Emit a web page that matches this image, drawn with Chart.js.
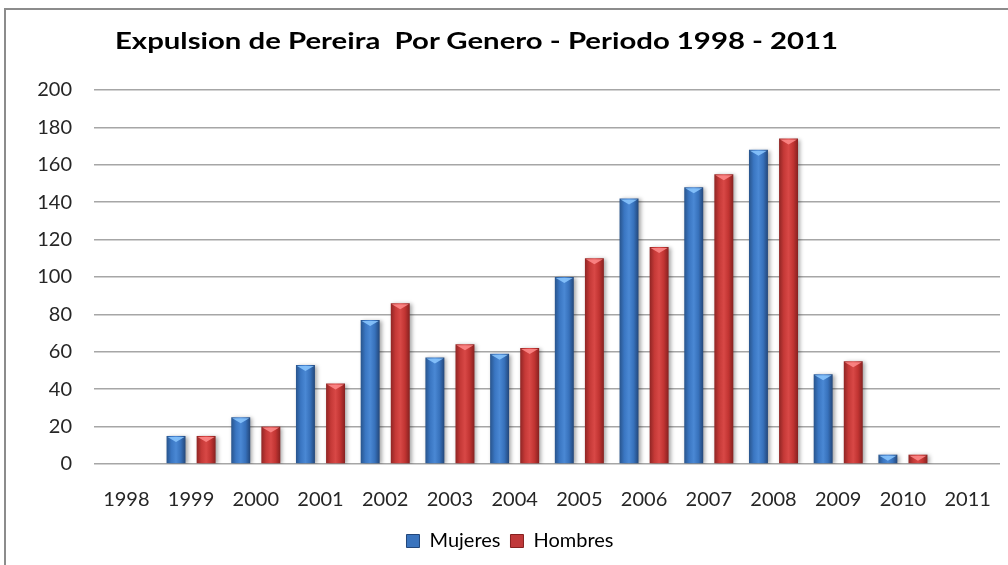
<!DOCTYPE html>
<html>
<head>
<meta charset="utf-8">
<script src="https://cdn.jsdelivr.net/npm/chart.js@4.4.1/dist/chart.umd.min.js"></script>
<style>
  html, body { margin: 0; padding: 0; background: #fff; overflow: hidden; }
  #wrap { position: relative; width: 1008px; height: 565px; }
  #frame { position: absolute; left: 4px; top: 8px; width: 1100px; height: 700px;
           border: 2px solid #8c8c8c; box-sizing: border-box; }
  #title { position: absolute; left: 115px; top: 26px; margin: 0;
           font: bold 23px Lato, sans-serif; white-space: pre; color: #000;
           transform-origin: 0 0; }
  canvas { position: absolute; left: 0; top: 0; }
</style>
</head>
<body>
<div id="wrap">
  <div id="frame"></div>
  <canvas id="chart" width="1008" height="565"></canvas>
  <div id="title">Expulsion de Pereira  Por Genero - Periodo 1998 - 2011</div>
</div>
<script>
// Expulsiones por año y género
const years = ['1998', '1999', '2000', '2001', '2002', '2003', '2004',
               '2005', '2006', '2007', '2008', '2009', '2010', '2011'];
const mujeres = [0, 15, 25, 53, 77, 57, 59, 100, 142, 148, 168, 48, 5, 0];
const hombres = [0, 15, 20, 43, 86, 64, 62, 110, 116, 155, 174, 55, 5, 0];
const yTicks = [0, 20, 40, 60, 80, 100, 120, 140, 160, 180, 200];

const tickFont = { family: 'Lato', size: 20 };

// widen the title so it runs from x=115 to x=838
const title = document.getElementById('title');
title.style.transform = 'scaleX(' + (723 / title.offsetWidth) + ')';

// colour ramps for the cylinder look (left edge -> right edge)
const shades = {
    blue: { solid: '#3a74be', cap: 'rgba(140,200,255,0.85)',
            stops: ['#28548c', '#3a76c2', '#4a88d4', '#3771bb', '#23477a'] },
    red:  { solid: '#c0393a', cap: 'rgba(255,140,140,0.85)',
            stops: ['#8f2524', '#c53937', '#d84846', '#c13432', '#862120'] }
};

// give every bar a horizontal gradient and a shadow, then a light cap on top
const barShade = {
    id: 'barShade',
    beforeDatasetDraw(chart, args) {
        const ctx = chart.ctx;
        const shade = shades[chart.data.datasets[args.index].shade];
        args.meta.data.forEach(el => {
            const { x, width } = el.getProps(['x', 'width'], true);
            const g = ctx.createLinearGradient(x - width / 2, 0, x + width / 2, 0);
            shade.stops.forEach((c, i) => g.addColorStop(i / (shade.stops.length - 1), c));
            el.options = Object.assign({}, el.options, { backgroundColor: g });
        });
        ctx.save();
        ctx.shadowColor = 'rgba(0,0,0,0.35)';
        ctx.shadowBlur = 4;
        ctx.shadowOffsetX = 2;
        ctx.shadowOffsetY = 1;
    },
    afterDatasetDraw(chart, args) {
        const ctx = chart.ctx;
        ctx.restore();
        const ds = chart.data.datasets[args.index];
        const shade = shades[ds.shade];
        args.meta.data.forEach((el, i) => {
            if (!ds.data[i]) return;
            const { x, y, width } = el.getProps(['x', 'y', 'width'], true);
            ctx.save();
            ctx.fillStyle = shade.cap;
            ctx.beginPath();
            ctx.moveTo(x - width / 2 + 1, y + 1);
            ctx.lineTo(x + width / 2 - 1, y + 1);
            ctx.lineTo(x, y + 6);
            ctx.closePath();
            ctx.fill();
            ctx.restore();
        });
    }
};

const data = {
    labels: years,
    datasets: [
        { label: 'Mujeres', data: mujeres, shade: 'blue', backgroundColor: shades.blue.solid,
          categoryPercentage: 0.93, barPercentage: 0.63 },
        { label: 'Hombres', data: hombres, shade: 'red', backgroundColor: shades.red.solid,
          categoryPercentage: 0.93, barPercentage: 0.63 }
    ]
};

const options = {
    responsive: false,
    animation: false,
    layout: { padding: { left: 20, right: 8, top: 90, bottom: 4 } },
    plugins: {
        title: { display: false },
        tooltip: { enabled: false },
        legend: {
            position: 'bottom',
            labels: {
                font: tickFont,
                color: '#262626',
                boxWidth: 13,
                boxHeight: 13,
                padding: 10,
                generateLabels(chart) {
                    return chart.data.datasets.map((ds, i) => ({
                        text: ds.label,
                        fillStyle: shades[ds.shade].solid,
                        strokeStyle: shades[ds.shade].stops[4],
                        lineWidth: 1,
                        datasetIndex: i
                    }));
                }
            }
        }
    },
    scales: {
        x: {
            grid: { display: false },
            border: { display: false },
            ticks: { font: tickFont, color: '#262626', padding: 16, maxRotation: 0 },
            afterFit(scale) { scale.height = 57; }
        },
        y: {
            min: 0,
            max: 200,
            afterBuildTicks(scale) { scale.ticks = yTicks.map(v => ({ value: v })); },
            grid: { color: '#a6a6a6', lineWidth: 1.5, drawTicks: false },
            border: { display: false },
            ticks: { font: tickFont, color: '#262626', padding: 22 },
            afterFit(scale) { scale.width = 74; }
        }
    }
};

const ctx = document.getElementById('chart').getContext('2d');
const myChart = new Chart(ctx, {
    type: 'bar',
    data: data,
    options: options,
    plugins: [barShade]
});
</script>
</body>
</html>
